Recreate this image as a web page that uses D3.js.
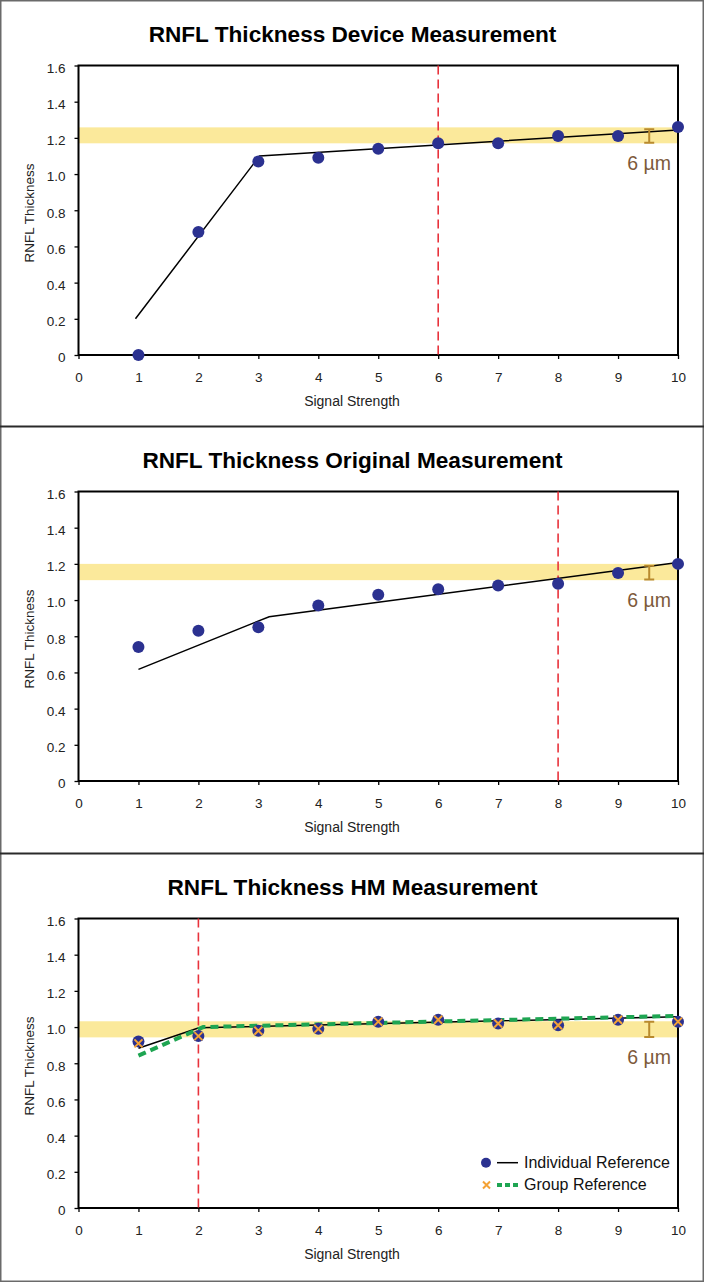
<!DOCTYPE html>
<html>
<head>
<meta charset="utf-8">
<script src="https://cdn.jsdelivr.net/npm/d3@7"></script>
<style>
  html, body { margin: 0; padding: 0; background: #fff; }
  svg { display: block; }
  text { font-family: "Liberation Sans", Arial, sans-serif; }
</style>
</head>
<body>
<svg id="chart" width="704" height="1282"></svg>
<script>
// ---------------- DATA ----------------
const xTicks = [0, 1, 2, 3, 4, 5, 6, 7, 8, 9, 10];
const yTicks = [0, 0.2, 0.4, 0.6, 0.8, 1.0, 1.2, 1.4, 1.6];
const signal = [1, 2, 3, 4, 5, 6, 7, 8, 9, 10];

const titles = [
  "RNFL Thickness Device Measurement",
  "RNFL Thickness Original Measurement",
  "RNFL Thickness HM Measurement"
];
const xLabel = "Signal Strength";
const yLabel = "RNFL Thickness";
const annotationText = "6 \u00B5m";

// Panel 1: Device
const deviceVals = [0.00, 0.68, 1.07, 1.09, 1.14, 1.17, 1.17, 1.21, 1.21, 1.26];
const deviceFitX = [0.95, 3.02, 10];
const deviceFitY = [0.20, 1.10, 1.243];

// Panel 2: Original
const originalVals = [0.74, 0.83, 0.85, 0.97, 1.03, 1.06, 1.08, 1.09, 1.15, 1.20];
const originalFitX = [1, 3.18, 10];
const originalFitY = [0.617, 0.908, 1.207];

// Panel 3: HM
const hmIndividualVals = [0.92, 0.95, 0.98, 0.99, 1.03, 1.04, 1.02, 1.01, 1.04, 1.03];
const hmGroupVals      = [0.91, 0.95, 0.98, 0.99, 1.03, 1.04, 1.02, 1.01, 1.04, 1.03];
const hmIndividualFitX = [1, 2.01, 10];
const hmIndividualFitY = [0.883, 0.996, 1.057];
const hmGroupFitX = [1, 2.08, 10];
const hmGroupFitY = [0.842, 1.0, 1.062];

const cutoffs = [6, 8, 2];
const bandLow  = [1.17, 1.11, 0.943];
const bandHigh = [1.258, 1.20, 1.032];
const barLow  = [1.173, 1.113, 0.945];
const barHigh = [1.247, 1.19, 1.03];
const barX = 9.52;

const legendLabels = ["Individual Reference", "Group Reference"];

// ---------------- STYLE / LAYOUT ----------------
const W = 704, H = 1282;
const panelTops = [0, 426, 853];
const frameTop = 65.5, frameBottom = 355;
const frameLeft = 78.5, frameRight = 678;

const COL = {
  blue: "#2b3190",
  orange: "#f4a235",
  green: "#1ea552",
  red: "#e8333c",
  band: "#fbe99b",
  bar: "#b98a2e",
  annot: "#7d5a3b"
};

const svg = d3.select("#chart");

const x = d3.scaleLinear().domain([0, 10]).range([frameLeft, frameRight]);
const y = d3.scaleLinear().domain([0, 1.6]).range([frameBottom, frameTop]);

function fitPoints(xs, ys) { return xs.map((v, i) => [v, ys[i]]); }
const line = d3.line().x(d => x(d[0])).y(d => y(d[1]));

const panels = [
  { vals: deviceVals, fits: [{ pts: fitPoints(deviceFitX, deviceFitY), type: "solid" }] },
  { vals: originalVals, fits: [{ pts: fitPoints(originalFitX, originalFitY), type: "solid" }] },
  { vals: hmIndividualVals, group: hmGroupVals,
    fits: [{ pts: fitPoints(hmIndividualFitX, hmIndividualFitY), type: "solid" },
           { pts: fitPoints(hmGroupFitX, hmGroupFitY), type: "green" }] }
];

// outer border
svg.append("rect").attr("x", 0.75).attr("y", 0.75).attr("width", W - 1.5).attr("height", H - 1.5)
  .attr("fill", "none").attr("stroke", "#6a6a6a").attr("stroke-width", 1.5);

// separators
[426.5, 853.5].forEach(sy => {
  svg.append("line").attr("x1", 0).attr("x2", W).attr("y1", sy).attr("y2", sy)
    .attr("stroke", "#2a2a2a").attr("stroke-width", 2);
});

function xMarker(g, cx, cy, s, color, w) {
  g.append("path")
    .attr("d", `M${cx - s},${cy - s}L${cx + s},${cy + s}M${cx - s},${cy + s}L${cx + s},${cy - s}`)
    .attr("stroke", color).attr("stroke-width", w).attr("fill", "none");
}

panels.forEach((p, i) => {
  const g = svg.append("g").attr("transform", `translate(0,${panelTops[i]})`);

  // title
  g.append("text").attr("x", 352.5).attr("y", 42).attr("text-anchor", "middle")
    .attr("font-size", 22.6).attr("font-weight", "bold").attr("fill", "#000")
    .text(titles[i]);

  // band
  g.append("rect").attr("x", frameLeft).attr("width", frameRight - frameLeft)
    .attr("y", y(bandHigh[i])).attr("height", y(bandLow[i]) - y(bandHigh[i]))
    .attr("fill", COL.band);

  // frame
  g.append("rect").attr("x", frameLeft).attr("y", frameTop)
    .attr("width", frameRight - frameLeft).attr("height", frameBottom - frameTop)
    .attr("fill", "none").attr("stroke", "#000").attr("stroke-width", 2);

  // axes
  const xAxis = d3.axisBottom(x).tickValues(xTicks).tickSize(4).tickSizeOuter(0).tickPadding(13)
    .tickFormat(d3.format("d"));
  const xg = g.append("g").attr("transform", `translate(0,${frameBottom})`).call(xAxis);
  xg.select(".domain").remove();
  xg.selectAll(".tick line").attr("stroke", "#000").attr("stroke-width", 1.3);
  xg.selectAll(".tick text").attr("font-size", 13.5).attr("fill", "#222")
    .attr("font-family", "\"Liberation Sans\", Arial, sans-serif");

  const yAxis = d3.axisLeft(y).tickValues(yTicks).tickSize(4).tickSizeOuter(0).tickPadding(9)
    .tickFormat(d => d === 0 ? "0" : d3.format(".1f")(d));
  const yg = g.append("g").attr("transform", `translate(${frameLeft},0)`).call(yAxis);
  yg.select(".domain").remove();
  yg.selectAll(".tick line").attr("stroke", "#000").attr("stroke-width", 1.3);
  yg.selectAll(".tick text").attr("font-size", 13.5).attr("fill", "#222").attr("dy", "0.5em")
    .attr("font-family", "\"Liberation Sans\", Arial, sans-serif");

  // axis labels
  g.append("text").attr("x", 352).attr("y", 406).attr("text-anchor", "middle")
    .attr("font-size", 14).attr("fill", "#222").text(xLabel);
  g.append("text").attr("transform", `translate(33.5,213) rotate(-90)`).attr("text-anchor", "middle")
    .attr("font-size", 13.5).attr("fill", "#222").text(yLabel);

  // red dashed cutoff
  g.append("line").attr("x1", x(cutoffs[i])).attr("x2", x(cutoffs[i]))
    .attr("y1", frameTop).attr("y2", frameBottom)
    .attr("stroke", COL.red).attr("stroke-width", 1.6).attr("stroke-dasharray", "9,5");

  // fit lines
  p.fits.forEach(f => {
    const path = g.append("path").datum(f.pts).attr("d", line).attr("fill", "none");
    if (f.type === "solid") {
      path.attr("stroke", "#000").attr("stroke-width", 1.5);
    } else {
      path.attr("stroke", COL.green).attr("stroke-width", 4).attr("stroke-dasharray", "8,5");
    }
  });

  // points
  g.selectAll("circle.pt").data(p.vals).enter().append("circle").attr("class", "pt")
    .attr("cx", (d, j) => x(signal[j])).attr("cy", d => y(d)).attr("r", 6)
    .attr("fill", COL.blue);

  if (p.group) {
    p.group.forEach((d, j) => xMarker(g, x(signal[j]), y(d), 4, COL.orange, 2));
  }

  // 6 µm error bar
  const bx = x(barX), b1 = y(barHigh[i]), b2 = y(barLow[i]);
  g.append("path")
    .attr("d", `M${bx},${b1}L${bx},${b2}M${bx - 5},${b1}L${bx + 5},${b1}M${bx - 5},${b2}L${bx + 5},${b2}`)
    .attr("stroke", COL.bar).attr("stroke-width", 2).attr("fill", "none");
  g.append("text").attr("x", bx).attr("y", y(bandLow[i]) + 26.5).attr("text-anchor", "middle")
    .attr("font-size", 19.5).attr("fill", COL.annot).text(annotationText);

  // legend (third panel)
  if (i === 2) {
    const lg = g.append("g");
    const rows = [309.7, 332];
    // row 1
    lg.append("circle").attr("cx", 486).attr("cy", rows[0]).attr("r", 5).attr("fill", COL.blue);
    lg.append("line").attr("x1", 497).attr("x2", 518).attr("y1", rows[0]).attr("y2", rows[0])
      .attr("stroke", "#000").attr("stroke-width", 1.5);
    lg.append("text").attr("x", 524).attr("y", rows[0] + 5).attr("font-size", 16)
      .attr("fill", "#111").text(legendLabels[0]);
    // row 2
    xMarker(lg, 486.5, rows[1], 3.5, COL.orange, 2);
    lg.append("line").attr("x1", 497).attr("x2", 519).attr("y1", rows[1]).attr("y2", rows[1])
      .attr("stroke", COL.green).attr("stroke-width", 4).attr("stroke-dasharray", "5,3");
    lg.append("text").attr("x", 524).attr("y", rows[1] + 5).attr("font-size", 16)
      .attr("fill", "#111").text(legendLabels[1]);
  }
});
</script>
</body>
</html>
